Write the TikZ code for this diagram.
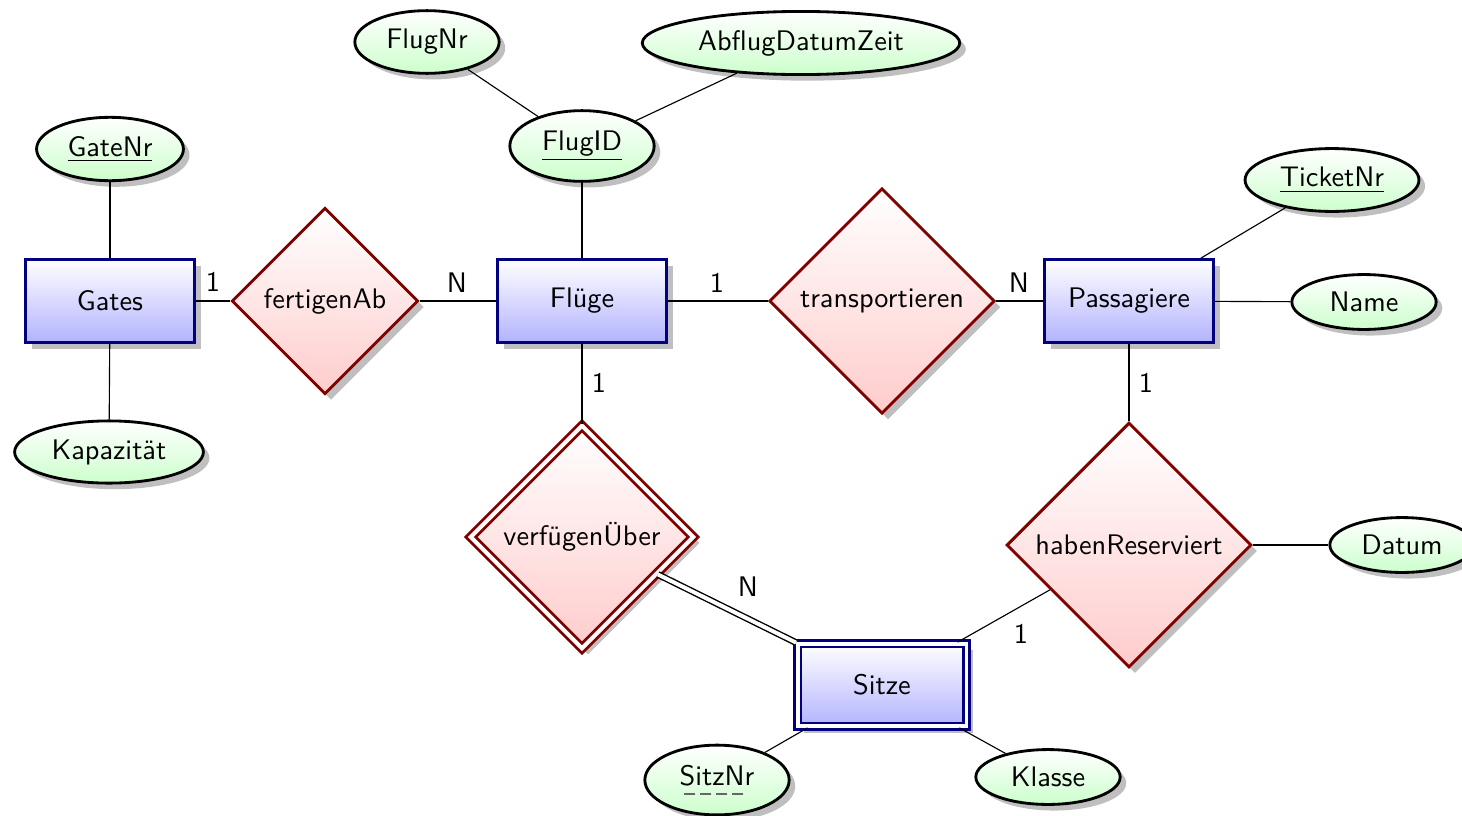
\documentclass[tikz,border=0pt]{standalone}
\usetikzlibrary{shapes.geometric,shadows}
\tikzset{
  entitybox/.style={rectangle, draw=blue!50!black, line width=1pt, top color=white, bottom color=blue!30,
    minimum width=59.7pt, minimum height=29.3pt, drop shadow},
  weakentity/.style={entitybox, double, double distance=1.4pt},
  relbox/.style={diamond, aspect=1, draw=red!50!black, line width=1pt, top color=white, bottom color=red!20,
    drop shadow},
  weakrel/.style={relbox, double, double distance=1.4pt},
  attrbox/.style={ellipse, draw=black, line width=1pt, top color=white, bottom color=green!20, drop shadow,
    minimum width=51pt, minimum height=18.5pt},
  card/.style={inner sep=1pt},
  link/.style={draw=black, line width=0.4pt},
  idlink/.style={draw=black, line width=0.5pt, double, double distance=1.4pt},
  partkey/.style={draw=black!60, line width=0.4pt, dash pattern=on 3.8pt off 1.9pt}
}
\begin{document}
\begin{tikzpicture}[x=0.3534pt, y=-0.3534pt, font=\sffamily]
\useasboundingbox (0,0) rectangle (1462,815);
% attributes
\node[attrbox] (gatenr) at (110,149) {\underline{GateNr}};
\node[attrbox] (kap) at (109,452) {Kapazität};
\node[attrbox] (flugnr) at (427,42) {FlugNr};
\node[attrbox] (abflug) at (801,43) {AbflugDatumZeit};
\node[attrbox] (flugid) at (582,146) {\underline{FlugID}};
\node[attrbox] (ticket) at (1332,180) {\underline{TicketNr}};
\node[attrbox] (name) at (1364,302) {Name};
\node[attrbox] (datum) at (1402,545) {Datum};
\node[attrbox] (sitznr) at (717,780) {SitzNr\rule[-3.6pt]{0pt}{3.6pt}};
\draw[partkey] ([shift={(-33,14)}]sitznr.center) -- ([shift={(27,14)}]sitznr.center);
\node[attrbox] (klasse) at (1048,777) {Klasse};
% entities
\node[entitybox] (gates) at (110,301) {Gates};
\node[entitybox] (fluege) at (582,301) {Flüge};
\node[entitybox] (pass) at (1129,301) {Passagiere};
\node[weakentity] (sitze) at (882,685) {Sitze};
% relationships
\node[relbox] (fert) at (325,301) {fertigenAb};
\node[relbox] (trans) at (882,301) {transportieren};
\node[weakrel] (verf) at (582,537) {verfügenÜber};
\node[relbox] (haben) at (1129,545) {habenReserviert};
% connectors
\draw[link] (gatenr) -- (gates);
\draw[link] (gates) -- (kap);
\draw[link] (gates) -- (fert);
\draw[link] (fert) -- (fluege);
\draw[link] (flugnr) -- (flugid);
\draw[link] (abflug) -- (flugid);
\draw[link] (flugid) -- (fluege);
\draw[link] (fluege) -- (trans);
\draw[link] (trans) -- (pass);
\draw[link] (pass) -- (ticket);
\draw[link] (pass) -- (name);
\draw[link] (fluege) -- (verf);
\draw[idlink] (verf) -- (sitze);
\draw[link] (pass) -- (haben);
\draw[link] (haben) -- (sitze);
\draw[link] (haben) -- (datum);
\draw[link] (sitze) -- (sitznr);
\draw[link] (sitze) -- (klasse);
% cardinalities
\node[card] (c1) at (213,282) {1};
\node[card] (c2) at (457,283) {N};
\node[card] (c3) at (717,283) {1};
\node[card] (c4) at (1019,283) {N};
\node[card] (c5) at (599,383) {1};
\node[card] (c6) at (1146,383) {1};
\node[card] (c7) at (748,587) {N};
\node[card] (c8) at (1021,634) {1};
\end{tikzpicture}
\end{document}
